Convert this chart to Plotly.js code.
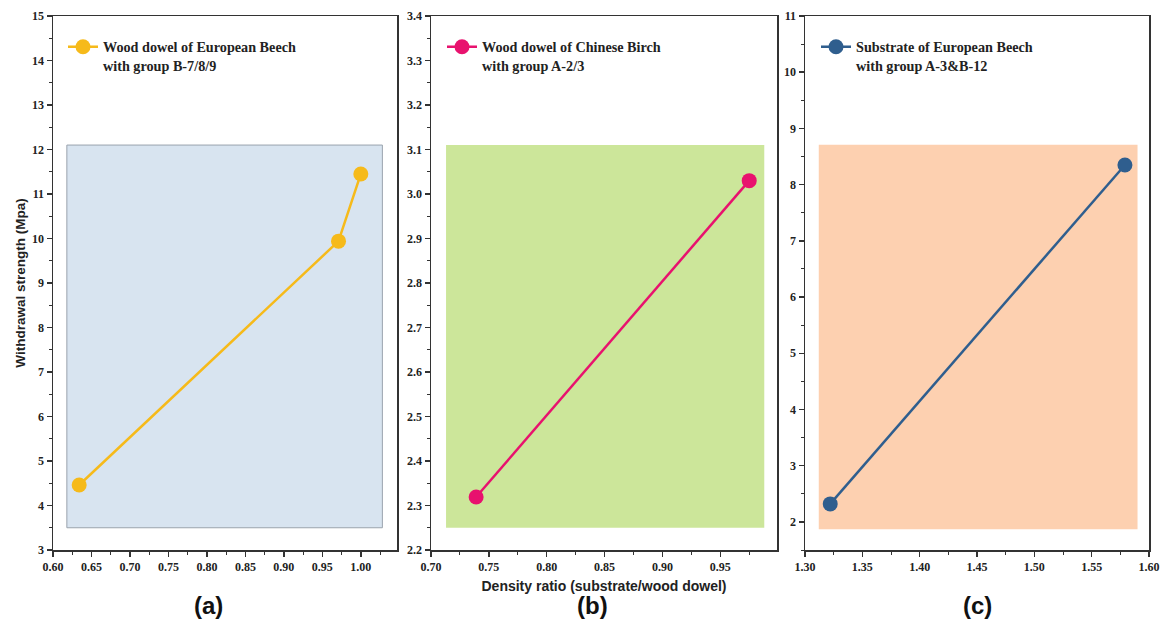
<!DOCTYPE html>
<html>
<head>
<meta charset="utf-8">
<script src="https://cdn.plot.ly/plotly-3.0.1.min.js"></script>
<style>html,body{margin:0;padding:0;background:#fff;}#chart{width:1161px;height:623px;}</style>
</head>
<body>
<div id="chart"></div>
<script>
// ---- data ----
const xA = [0.634, 0.971, 1.000];
const yA = [4.46, 9.94, 11.45];
const xB = [0.739, 0.975];
const yB = [2.319, 3.03];
const xC = [1.322, 1.579];
const yC = [2.32, 8.35];
const nameA = "Wood dowel of European Beech<br>with group B-7/8/9";
const nameB = "Wood dowel of Chinese Birch<br>with group A-2/3";
const nameC = "Substrate of European Beech<br>with group A-3&B-12";
const shadeAx = [0.618, 1.028], shadeAy = [3.5, 12.1];
const shadeBx = [0.713, 0.988], shadeBy = [2.25, 3.11];
const shadeCx = [1.312, 1.590], shadeCy = [1.87, 8.71];
const panelLabels = ["(a)", "(b)", "(c)"];

const colA = "#F6BA1A", colB = "#E8126E", colC = "#2F5E8E";
const tickFont = {family: "Liberation Serif", size: 12, color: "#222", weight: "bold"};
const legFont = {family: "Liberation Serif", size: 14.2, color: "#222"};

function tr(x, y, name, col, xa, ya, leg) {
  return {x: x, y: y, name: "<b>" + name.replace("<br>", "</b><br><b>") + "</b>", xaxis: xa, yaxis: ya, legend: leg,
    mode: "lines+markers", type: "scatter",
    line: {color: col, width: 2.5}, marker: {color: col, size: 15}, showlegend: true};
}
const data = [
  tr(xA, yA, nameA, colA, "x", "y", "legend"),
  tr(xB, yB, nameB, colB, "x2", "y2", "legend2"),
  tr(xC, yC, nameC, colC, "x3", "y3", "legend3")
];

function xax(dom, range, dtick, anchor) {
  return {domain: dom, range: range, dtick: dtick, anchor: anchor, showline: true, mirror: true,
    linecolor: "#333", linewidth: 1.5, ticks: "outside", ticklen: 5, tickwidth: 1.5, tickcolor: "#333",
    showgrid: false, zeroline: false, tickfont: tickFont, tickformat: ".2f",
    minor: {dtick: dtick / 2, ticks: "outside", ticklen: 3, tickwidth: 1, tickcolor: "#333"}};
}
function yax(dom, range, dtick, anchor, fmt) {
  return {domain: dom, range: range, dtick: dtick, anchor: anchor, showline: true, mirror: true,
    linecolor: "#333", linewidth: 1.5, ticks: "outside", ticklen: 5, tickwidth: 1.5, tickcolor: "#333",
    showgrid: false, zeroline: false, tickfont: tickFont, tickformat: fmt,
    minor: {dtick: dtick / 2, ticks: "outside", ticklen: 3, tickwidth: 1, tickcolor: "#333"}};
}
const ydom = [1 - 550 / 623, 1 - 16 / 623];
function rect(xr, yr, xref, yref, fill, border) {
  return {type: "rect", xref: xref, yref: yref, x0: xr[0], x1: xr[1], y0: yr[0], y1: yr[1],
    fillcolor: fill, line: {color: border || fill, width: border ? 1 : 0}, layer: "below"};
}
function leg(x, y) {
  return {x: x, y: y, xanchor: "left", yanchor: "top", bgcolor: "rgba(0,0,0,0)", font: legFont,
    itemwidth: 30, valign: "top", tracegroupgap: 0};
}
const axisTitleFont = {family: "Liberation Sans", size: 13.5, color: "#222"};
const layout = {
  width: 1161, height: 623, margin: {l: 0, r: 0, t: 0, b: 0},
  paper_bgcolor: "#fff", plot_bgcolor: "#fff",
  xaxis: xax([53 / 1161, 397 / 1161], [0.60, 1.047], 0.05, "y"),
  yaxis: Object.assign(yax(ydom, [3, 15], 1, "x", "d"), {title: {text: "<b>Withdrawal strength (Mpa)</b>", font: axisTitleFont, standoff: 3}}),
  xaxis2: Object.assign(xax([431 / 1161, 777 / 1161], [0.70, 0.999], 0.05, "y2"), {title: {text: "<b>Density ratio (substrate/wood dowel)</b>", font: {family: "Liberation Sans", size: 14, color: "#222"}, standoff: 8}}),
  yaxis2: yax(ydom, [2.2, 3.4], 0.1, "x2", ".1f"),
  xaxis3: xax([805 / 1161, 1149 / 1161], [1.30, 1.60], 0.05, "y3"),
  yaxis3: yax(ydom, [1.5, 11], 1, "x3", "d"),
  shapes: [
    rect(shadeAx, shadeAy, "x", "y", "#D8E4F0", "#9AA3AD"),
    rect(shadeBx, shadeBy, "x2", "y2", "#CCE69A"),
    rect(shadeCx, shadeCy, "x3", "y3", "#FDD0B0")
  ],
  legend: leg(63 / 1161, 1 - 31 / 623),
  legend2: leg(442 / 1161, 1 - 31 / 623),
  legend3: leg(816 / 1161, 1 - 31 / 623),
  annotations: panelLabels.map((t, i) => ({
    text: "<b>" + t + "</b>", xref: "paper", yref: "paper", x: [208, 592, 977][i] / 1161, y: 1 - 605 / 623,
    showarrow: false, xanchor: "center", yanchor: "middle",
    font: {family: "Liberation Sans", size: 24, color: "#111"}
  })),
  showlegend: true
};
Plotly.newPlot("chart", data, layout, {displayModeBar: false, staticPlot: true});
</script>
</body>
</html>
